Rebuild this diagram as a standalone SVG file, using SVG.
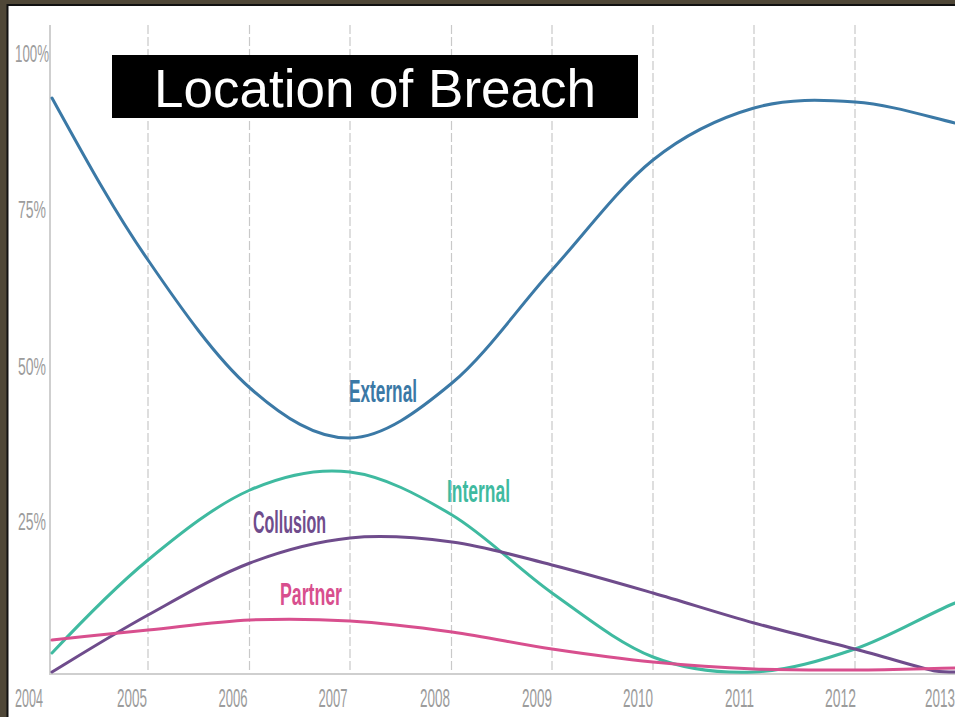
<svg xmlns="http://www.w3.org/2000/svg" width="955" height="717" viewBox="0 0 955 717">
  <style>
    .grid { stroke: #c9c9c9; stroke-width: 1.2; stroke-dasharray: 9 3; fill: none; }
    .axis { stroke: #cfcfcf; stroke-width: 2; fill: none; }
    .tick { font-family: "Liberation Sans", Arial, sans-serif; font-size: 23px; fill: #9c9c9c; }
    .year { font-family: "Liberation Sans", Arial, sans-serif; font-size: 25px; fill: #9c9c9c; text-anchor: end; }
    .series { fill: none; stroke-width: 3; stroke-linecap: round; stroke-linejoin: round; }
    .label { font-family: "Liberation Sans", Arial, sans-serif; font-size: 32px; font-weight: bold; }
    .title { font-family: "Liberation Sans", Arial, sans-serif; font-size: 53px; fill: #ffffff; text-anchor: middle; }
  </style>

  <!-- frame -->
  <rect x="0" y="0" width="955" height="717" fill="#4f4737"/>
  <rect x="6.5" y="4" width="949" height="713" fill="#111111"/>
  <rect x="8.5" y="6" width="947" height="711" fill="#ffffff"/>

  <!-- vertical year gridlines -->
  <g id="gridlines">
    <line class="grid" x1="148" y1="25" x2="148" y2="673"/>
    <line class="grid" x1="249.5" y1="25" x2="249.5" y2="673"/>
    <line class="grid" x1="350" y1="25" x2="350" y2="673"/>
    <line class="grid" x1="451.5" y1="25" x2="451.5" y2="673"/>
    <line class="grid" x1="552" y1="25" x2="552" y2="673"/>
    <line class="grid" x1="653" y1="25" x2="653" y2="673"/>
    <line class="grid" x1="754" y1="25" x2="754" y2="673"/>
    <line class="grid" x1="855" y1="25" x2="855" y2="673"/>
  </g>

  <!-- axes -->
  <g id="axes">
    <line class="axis" x1="50" y1="25" x2="50" y2="674"/>
    <line class="axis" x1="49" y1="674" x2="955" y2="674"/>
  </g>

  <!-- percentage ticks -->
  <g id="y-labels">
    <text class="tick" x="15" y="62" textLength="34" lengthAdjust="spacingAndGlyphs">100%</text>
    <text class="tick" x="18" y="218" textLength="28" lengthAdjust="spacingAndGlyphs">75%</text>
    <text class="tick" x="18" y="375" textLength="28" lengthAdjust="spacingAndGlyphs">50%</text>
    <text class="tick" x="18" y="530" textLength="28" lengthAdjust="spacingAndGlyphs">25%</text>
  </g>

  <!-- year ticks -->
  <g id="x-labels">
    <text class="year" x="43" y="707" textLength="28" lengthAdjust="spacingAndGlyphs">2004</text>
    <text class="year" x="147" y="707" textLength="30" lengthAdjust="spacingAndGlyphs">2005</text>
    <text class="year" x="247.5" y="707" textLength="29" lengthAdjust="spacingAndGlyphs">2006</text>
    <text class="year" x="347.5" y="707" textLength="29" lengthAdjust="spacingAndGlyphs">2007</text>
    <text class="year" x="450" y="707" textLength="30" lengthAdjust="spacingAndGlyphs">2008</text>
    <text class="year" x="552" y="707" textLength="30" lengthAdjust="spacingAndGlyphs">2009</text>
    <text class="year" x="653" y="707" textLength="30" lengthAdjust="spacingAndGlyphs">2010</text>
    <text class="year" x="754" y="707" textLength="29" lengthAdjust="spacingAndGlyphs">2011</text>
    <text class="year" x="856" y="707" textLength="31" lengthAdjust="spacingAndGlyphs">2012</text>
    <text class="year" x="955" y="707" textLength="30" lengthAdjust="spacingAndGlyphs">2013</text>
  </g>

  <!-- data series -->
  <g id="series-external">
    <path class="series" stroke="#3b79a6" d="M52,98 C84,156 114.3,211.7 148,260 C181,308.3 216.3,358.3 250,388 C283.7,417.7 316.3,438.8 350,438 C383.7,437.2 418.3,411 452,383 C485.7,355 518.5,307.2 552,270 C585.5,232.8 619.3,187 653,160 C686.7,133 720.3,117.7 754,108 C787.7,98.3 821.5,99.5 855,102 C888.5,104.5 922,115 955,123"/>
    <text class="label" fill="#3b79a6" x="349" y="402" textLength="68" lengthAdjust="spacingAndGlyphs">External</text>
  </g>
  <g id="series-internal">
    <path class="series" stroke="#3fbaa0" d="M52,653 C84,619 115,587.2 148,560 C181,532.8 216.3,504.7 250,490 C283.7,475.3 316.3,467.8 350,472 C383.7,476.2 418.3,494.8 452,515 C485.7,535.2 518.5,569.3 552,593 C585.5,616.7 619.3,643.8 653,657 C686.7,670.2 720.3,673.3 754,672 C787.7,670.7 821.5,660.5 855,649 C888.5,637.5 922,617 955,603"/>
    <text class="label" fill="#3fbaa0" x="447" y="502" textLength="63" lengthAdjust="spacingAndGlyphs">Internal</text>
  </g>
  <g id="series-collusion">
    <path class="series" stroke="#6f4c8c" d="M52,672 C84,652.5 115,633.2 148,615 C181,596.8 216.3,575.8 250,563 C283.7,550.2 316.3,541.5 350,538 C383.7,534.5 418.3,537.5 452,542 C485.7,546.5 518.5,556.5 552,565 C585.5,573.5 619.3,583.3 653,593 C686.7,602.7 720.3,613.7 754,623 C787.7,632.3 824.8,641 855,649 C885.2,657 927,670 935,671 C943,672 949,672 955,672"/>
    <text class="label" fill="#6f4c8c" x="253" y="533" textLength="73" lengthAdjust="spacingAndGlyphs">Collusion</text>
  </g>
  <g id="series-partner">
    <path class="series" stroke="#d84f8e" d="M52,640 C84,636.5 115,633.3 148,630 C181,626.7 216.3,621.5 250,620 C283.7,618.5 316.3,619 350,621 C383.7,623 418.3,627.3 452,632 C485.7,636.7 518.5,644 552,649 C585.5,654 619.3,658.7 653,662 C686.7,665.3 720.3,667.7 754,669 C787.7,670.3 821.5,670.2 855,670 C888.5,669.8 922,668.7 955,668"/>
    <text class="label" fill="#d84f8e" x="280" y="605" textLength="62" lengthAdjust="spacingAndGlyphs">Partner</text>
  </g>

  <!-- title banner -->
  <g id="title">
    <rect x="112" y="55" width="526" height="63" fill="#000000"/>
    <text class="title" x="375" y="107">Location of Breach</text>
  </g>
</svg>
